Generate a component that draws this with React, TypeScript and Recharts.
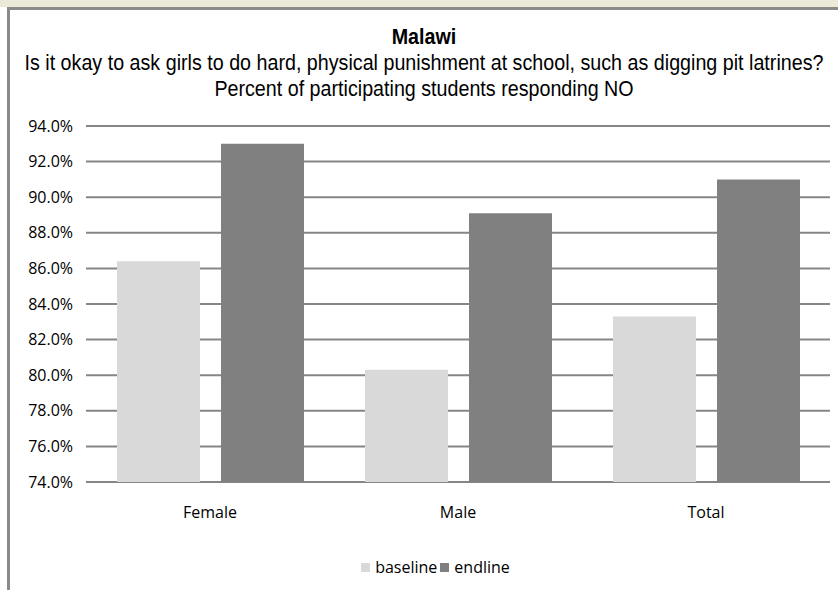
import { Bar, BarChart, CartesianGrid, Legend, XAxis, YAxis } from "recharts";

const categories = ["Female", "Male", "Total"];
const baseline = [86.4, 80.3, 83.3];
const endline = [93.0, 89.1, 91.0];
const yTicks = [74, 76, 78, 80, 82, 84, 86, 88, 90, 92, 94];

const rows = categories.map((name, i) => ({
  name,
  baseline: baseline[i],
  endline: endline[i],
}));

const tickFont = "'Open Sans', 'DejaVu Sans', sans-serif";
const titleFont = "'Liberation Sans', Arial, sans-serif";

function LegendRow() {
  const items = [
    { label: "baseline", color: "#d9d9d9" },
    { label: "endline", color: "#808080" },
  ];
  return (
    <div
      style={{
        display: "flex",
        justifyContent: "center",
        paddingLeft: 36,
        fontFamily: tickFont,
        fontSize: 16,
        lineHeight: "20px",
        color: "#000",
      }}
    >
      {items.map((it) => (
        <span key={it.label} style={{ display: "flex", alignItems: "center", marginRight: 3 }}>
          <span style={{ width: 9, height: 9, background: it.color, marginRight: 5, display: "inline-block" }} />
          {it.label}
        </span>
      ))}
    </div>
  );
}

export default function App() {
  return (
    <div style={{ position: "fixed", left: 0, top: 0, width: 838, height: 590, background: "#fff", overflow: "hidden" }}>
      {/* window chrome around the chart */}
      <div style={{ position: "absolute", left: 0, top: 0, width: 838, height: 7, background: "#ece9d8" }} />
      <div style={{ position: "absolute", left: 7, top: 7, width: 831, height: 3, background: "#8a8a8a" }} />
      <div style={{ position: "absolute", left: 7, top: 7, width: 3, height: 583, background: "#8a8a8a" }} />

      {/* narrow title lines: regular sans squeezed horizontally around x=424 */}
      <div
        style={{
          position: "absolute",
          left: -76,
          top: 24,
          width: 1000,
          textAlign: "center",
          fontFamily: titleFont,
          fontSize: 22,
          lineHeight: "26px",
          color: "#000",
          transform: "scaleX(0.895)",
          transformOrigin: "500px 0",
          whiteSpace: "nowrap",
        }}
      >
        <div style={{ fontWeight: "bold" }}>Malawi</div>
        <div>Is it okay to ask girls to do hard, physical punishment at school, such as digging pit latrines?</div>
        <div>Percent of participating students responding NO</div>
      </div>

      <div style={{ position: "absolute", left: 0, top: 0 }}>
        <BarChart
          width={838}
          height={590}
          data={rows}
          margin={{ top: 126, right: 8, bottom: 68, left: 10 }}
          barCategoryGap="12.5%"
          barGap={21}
        >
          <CartesianGrid vertical={false} stroke="#868686" strokeWidth={2} />
          <XAxis
            dataKey="name"
            height={40}
            axisLine={false}
            tickLine={false}
            tickMargin={19}
            tick={{ fontFamily: tickFont, fontSize: 16, fill: "#000" }}
          />
          <YAxis
            width={76}
            domain={[74, 94]}
            ticks={yTicks}
            allowDataOverflow
            axisLine={false}
            tickLine={false}
            tickMargin={7}
            tickFormatter={(v: number) => `${v.toFixed(1)}%`}
            tick={{ fontFamily: tickFont, fontSize: 16, fill: "#000" }}
          />
          <Legend
            layout="horizontal"
            verticalAlign="middle"
            align="center"
            wrapperStyle={{ top: 557, left: 0, width: 838 }}
            content={() => <LegendRow />}
          />
          <Bar dataKey="baseline" fill="#d9d9d9" isAnimationActive={false} />
          <Bar dataKey="endline" fill="#808080" isAnimationActive={false} />
        </BarChart>
      </div>
    </div>
  );
}
